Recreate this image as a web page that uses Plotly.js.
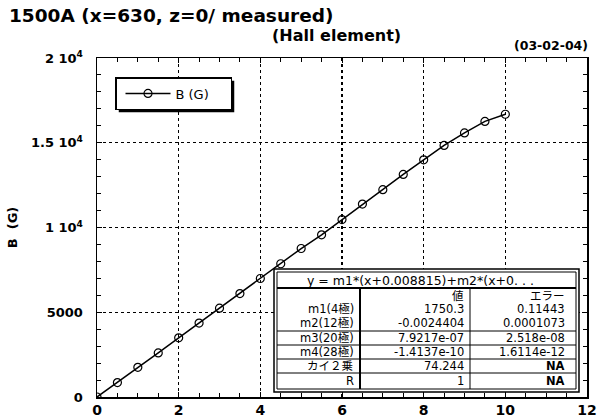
<!DOCTYPE html>
<html><head><meta charset="utf-8">
<script src="https://cdn.plot.ly/plotly-3.0.1.min.js"></script>
<style>html,body{margin:0;padding:0;background:#fff}#c{width:597px;height:419px}</style>
</head><body><div id="c"></div>
<script>
// Data
const xPos = [0,0.5,1,1.5,2,2.5,3,3.5,4,4.5,5,5.5,6,6.5,7,7.5,8,8.5,9,9.5,10];
const bField = [0,850,1750,2600,3490,4360,5240,6100,6990,7860,8760,9570,10470,11380,12230,13130,13990,14840,15580,16260,16680];
const seriesName = 'B (G)';
const yTickVals = [0,5000,10000,15000,20000];
const yTickText = ['0','5000','1 10<sup>4</sup>','1.5 10<sup>4</sup>','2 10<sup>4</sup>'];
const fitHeader = 'y = m1*(x+0.008815)+m2*(x+0. . .';
const colHeads = ['値','エラー'];
const rowNames = ['m1(4極)','m2(12極)','m3(20極)','m4(28極)','カイ２乗','R'];
const rowValues = ['1750.3','-0.0024404','7.9217e-07','-1.4137e-10','74.244','1'];
const rowErrors = ['0.11443','0.0001073','2.518e-08','1.6114e-12','NA','NA'];

// pixel -> paper helpers (plot area)
const L=97,R=587,T=58,B=397;
const px = v => (v-L)/(R-L);
const py = v => (B-v)/(B-T);

const shapes = [];
const ann = [];
function rect(x0,y0,x1,y1,w,fill){shapes.push({type:'rect',xref:'paper',yref:'paper',x0:px(x0),x1:px(x1),y0:py(y0),y1:py(y1),line:{color:'black',width:w},fillcolor:fill||'rgba(0,0,0,0)',layer:'above'});}
function line(x0,y0,x1,y1,w){shapes.push({type:'line',xref:'paper',yref:'paper',x0:px(x0),x1:px(x1),y0:py(y0),y1:py(y1),line:{color:'black',width:w},layer:'above'});}
const tblFont = {family:'"DejaVu Sans", "Noto Sans CJK JP", sans-serif',size:11.5,color:'black'};
function txt(t,x,y,anchor,font){ann.push({text:t,xref:'paper',yref:'paper',x:px(x),y:py(y),xanchor:anchor||'right',yanchor:'middle',showarrow:false,font:font||tblFont});}

// table
rect(274,269,579,392,1.5,'white');
rect(277,272,576,389,1,'rgba(0,0,0,0)');
line(277,288,576,288,2);
[331,345,359,373].forEach(y=>line(277,y,576,y,1));
line(360,288,360,389,2);
line(470,288,470,389,1);
txt(fitHeader,420,280,'center',{family:'"DejaVu Sans", sans-serif',size:12.5,color:'black'});
txt(colHeads[0],466,296);
txt(colHeads[1],567,296);
const rowY=[309,323,338,352,366,381];
rowNames.forEach((n,i)=>{
  txt(n,356,rowY[i]);
  txt(rowValues[i],466,rowY[i]);
  txt(rowErrors[i]==='NA'?'<b>NA</b>':rowErrors[i],567,rowY[i]);
});

// titles
const bold = (s)=>({family:'"DejaVu Sans", sans-serif',size:s,color:'black',weight:'bold'});
ann.push({text:'1500A (x=630, z=0/ measured)',xref:'paper',yref:'paper',x:px(7),y:py(15),xanchor:'left',yanchor:'middle',showarrow:false,font:bold(18.5)});
ann.push({text:'(Hall element)',xref:'paper',yref:'paper',x:px(270),y:py(35),xanchor:'left',yanchor:'middle',showarrow:false,font:bold(16)});
ann.push({text:'(03-02-04)',xref:'paper',yref:'paper',x:px(512),y:py(45),xanchor:'left',yanchor:'middle',showarrow:false,font:bold(12.5)});

const trace = {x:xPos,y:bField,name:seriesName,type:'scatter',mode:'lines+markers',
  line:{color:'black',width:1.5},marker:{symbol:'circle-open',size:8,color:'black',line:{width:1.2,color:'black'}}};

const layout = {
  width:597,height:419,margin:{l:L,r:597-R,t:T,b:419-B},
  paper_bgcolor:'white',plot_bgcolor:'white',showlegend:true,
  legend:{x:px(115),y:py(77),xanchor:'left',yanchor:'top',bgcolor:'white',bordercolor:'black',borderwidth:1.5,
    font:{family:'"DejaVu Sans", sans-serif',size:13,color:'black'},itemwidth:45,indentation:4,
    orientation:'h',entrywidth:50,entrywidthmode:'pixels'},
  xaxis:{range:[0,12],dtick:2,tick0:0,showline:true,linecolor:'black',linewidth:1.5,mirror:'allticks',
    ticks:'inside',ticklen:5,tickcolor:'black',showgrid:true,gridcolor:'black',griddash:'dot',gridwidth:1.3,
    zeroline:false,tickfont:bold(14),minor:{dtick:0.5,ticks:'inside',ticklen:4,tickcolor:'black',showgrid:false}},
  yaxis:{range:[0,20000],tickvals:yTickVals,ticktext:yTickText,showline:true,linecolor:'black',linewidth:1.5,mirror:'allticks',
    ticks:'inside',ticklen:5,tickcolor:'black',showgrid:true,gridcolor:'black',griddash:'dot',gridwidth:1.3,
    zeroline:false,tickfont:bold(13),ticklabelstandoff:10,
    minor:{tickvals:[1000,2000,3000,4000,6000,7000,8000,9000,11000,12000,13000,14000,16000,17000,18000,19000],ticks:'inside',ticklen:4,tickcolor:'black',showgrid:false},
    title:{text:'B  (G)',font:bold(13),standoff:10}},
  shapes:shapes,annotations:ann
};
Plotly.newPlot('c',[trace],layout,{displayModeBar:false,staticPlot:true}).then(gd=>{
  // drop shadow behind the legend box
  const bg = gd.querySelector('.legend .bg');
  if(!bg) return;
  const r = bg.getBoundingClientRect();
  const c = gd.getBoundingClientRect();
  const x0=r.left-c.left+3, x1=r.right-c.left+3, y0=r.top-c.top+3, y1=r.bottom-c.top+3;
  const sh = {type:'rect',xref:'paper',yref:'paper',x0:px(x0),x1:px(x1),y0:py(y0),y1:py(y1),line:{width:0},fillcolor:'black',layer:'above'};
  Plotly.relayout(gd,{shapes:[sh].concat(shapes)});
});
</script></body></html>
